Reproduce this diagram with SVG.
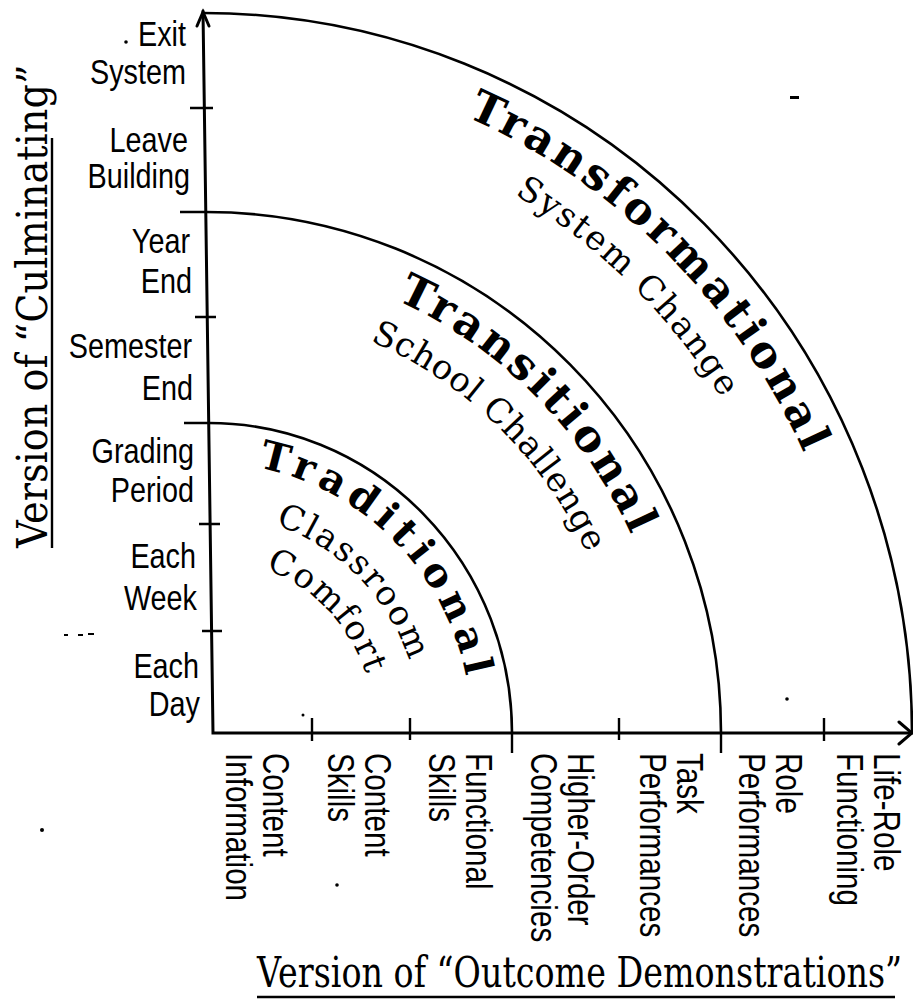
<svg xmlns="http://www.w3.org/2000/svg" width="913" height="1006" viewBox="0 0 913 1006">
<style>
.bg{fill:#fff}
.ax{fill:none;stroke:#000;stroke-width:3;stroke-linecap:round}
.arc{fill:none;stroke:#000;stroke-width:2.6}
.tk{fill:none;stroke:#000;stroke-width:2.4}
.lbl{font-family:"Liberation Sans",Arial,sans-serif;font-size:36px;fill:#000}
.yl{text-anchor:end}
.xl{font-size:37px}
.ttl{font-family:"DejaVu Serif","Liberation Serif",serif;font-size:42px;fill:#000}
.big{font-family:"DejaVu Serif","Liberation Serif",serif;font-weight:bold;fill:#000}
.sub{font-family:"DejaVu Serif","Liberation Serif",serif;font-size:34px;fill:#000}
</style>
<defs>
<path id="pTrad" d="M257.7 467.5 A262 270 0 0 1 472 733"/>
<path id="pClass" d="M275.2 524.7 A211 219 0 0 1 421 733"/>
<path id="pComf" d="M265.4 569 A166 174 0 0 1 376 733"/>
<path id="pTrans" d="M396.3 300 A468 474 0 0 1 674 733"/>
<path id="pSchool" d="M370.1 340.9 A420 426 0 0 1 626 733"/>
<path id="pTransf" d="M466.5 116.7 A661 672 0 0 1 864 733"/>
<path id="pSys" d="M514.6 194.5 A614 625 0 0 1 817 733"/>
</defs>
<rect class="bg" x="0" y="0" width="913" height="1006"/>

<g id="connectors">
<path class="ax" d="M203 11 L213 733 L912 733"/>
<path class="ax" d="M197 26 L203 12 L209 26"/>
<path class="ax" d="M899 722 L912 733 L899 744"/>
<path class="arc" d="M203 13 A709 720 0 0 1 912 733"/>
<path class="arc" d="M206 212 A515 521 0 0 1 721 733"/>
<path class="arc" d="M209 423 A303 310 0 0 1 512 733"/>
<g id="ticks">
<path class="tk" d="M190 108 H213 M180 212 H207 M195 317 H216 M184 423 H210 M199 524 H220 M202 631 H222"/>
<path class="tk" d="M312 718 V741 M410 718 V740 M512 733 V753 M619 718 V740 M721 733 V753 M824 718 V741"/>
</g>
</g>

<g id="y-labels">
<text class="lbl yl" transform="translate(186,46) scale(0.8,1)">Exit</text>
<text class="lbl yl" transform="translate(186,84) scale(0.8,1)">System</text>
<text class="lbl yl" transform="translate(188,152) scale(0.8,1)">Leave</text>
<text class="lbl yl" transform="translate(190,188) scale(0.8,1)">Building</text>
<text class="lbl yl" transform="translate(190,253) scale(0.8,1)">Year</text>
<text class="lbl yl" transform="translate(192,293) scale(0.8,1)">End</text>
<text class="lbl yl" transform="translate(192,358) scale(0.8,1)">Semester</text>
<text class="lbl yl" transform="translate(193,400) scale(0.8,1)">End</text>
<text class="lbl yl" transform="translate(194,463) scale(0.8,1)">Grading</text>
<text class="lbl yl" transform="translate(194,502) scale(0.8,1)">Period</text>
<text class="lbl yl" transform="translate(196,568) scale(0.8,1)">Each</text>
<text class="lbl yl" transform="translate(197,610) scale(0.8,1)">Week</text>
<text class="lbl yl" transform="translate(199,678) scale(0.8,1)">Each</text>
<text class="lbl yl" transform="translate(200,716) scale(0.8,1)">Day</text>
</g>

<g id="x-labels">
<text class="lbl xl" transform="translate(263,753) rotate(90) scale(0.8,1)">Content</text>
<text class="lbl xl" transform="translate(226,753) rotate(90) scale(0.8,1)">Information</text>
<text class="lbl xl" transform="translate(365,753) rotate(90) scale(0.8,1)">Content</text>
<text class="lbl xl" transform="translate(328,753) rotate(90) scale(0.8,1)">Skills</text>
<text class="lbl xl" transform="translate(466,753) rotate(90) scale(0.8,1)">Functional</text>
<text class="lbl xl" transform="translate(429,753) rotate(90) scale(0.8,1)">Skills</text>
<text class="lbl xl" transform="translate(568,753) rotate(90) scale(0.8,1)">Higher-Order</text>
<text class="lbl xl" transform="translate(531,753) rotate(90) scale(0.8,1)">Competencies</text>
<text class="lbl xl" transform="translate(677,753) rotate(90) scale(0.8,1)">Task</text>
<text class="lbl xl" transform="translate(640,753) rotate(90) scale(0.8,1)">Performances</text>
<text class="lbl xl" transform="translate(776,753) rotate(90) scale(0.8,1)">Role</text>
<text class="lbl xl" transform="translate(739,753) rotate(90) scale(0.8,1)">Performances</text>
<text class="lbl xl" transform="translate(874,753) rotate(90) scale(0.8,1)">Life-Role</text>
<text class="lbl xl" transform="translate(837,753) rotate(90) scale(0.8,1)">Functioning</text>
</g>

<g id="axis-titles">
<text class="ttl" transform="translate(47,548) rotate(-90) scale(0.91,1)">Version of “Culminating”</text>
<path class="tk" d="M52 548 V138"/>
<text class="ttl" transform="translate(257,987) scale(0.794,1)">Version of “Outcome Demonstrations”</text>
<path class="tk" d="M257 997 H895"/>
</g>

<g id="node-traditional">
<text class="big" font-size="40" letter-spacing="6.5"><textPath href="#pTrad">Traditional</textPath></text>
<text class="sub" letter-spacing="2"><textPath href="#pClass">Classroom</textPath></text>
<text class="sub" letter-spacing="1.4"><textPath href="#pComf">Comfort</textPath></text>
</g>
<g id="node-transitional">
<text class="big" font-size="44" letter-spacing="3.7"><textPath href="#pTrans">Transitional</textPath></text>
<text class="sub" letter-spacing="0.6"><textPath href="#pSchool">School Challenge</textPath></text>
</g>
<g id="node-transformational">
<text class="big" font-size="44" letter-spacing="3.9"><textPath href="#pTransf">Transformational</textPath></text>
<text class="sub" letter-spacing="2"><textPath href="#pSys">System Change</textPath></text>
</g>

<g id="specks" fill="#000">
<rect x="790" y="96" width="9" height="3"/>
<circle cx="126" cy="42" r="1.8"/>
<circle cx="303" cy="715" r="1.5"/>
<circle cx="337" cy="885" r="1.8"/>
<circle cx="42" cy="830" r="2"/>
<circle cx="787" cy="699" r="1.8"/>
<path d="M64 635 h4 M78 635 h5 M88 634 h6" stroke="#000" stroke-width="2"/>
</g>
</svg>
